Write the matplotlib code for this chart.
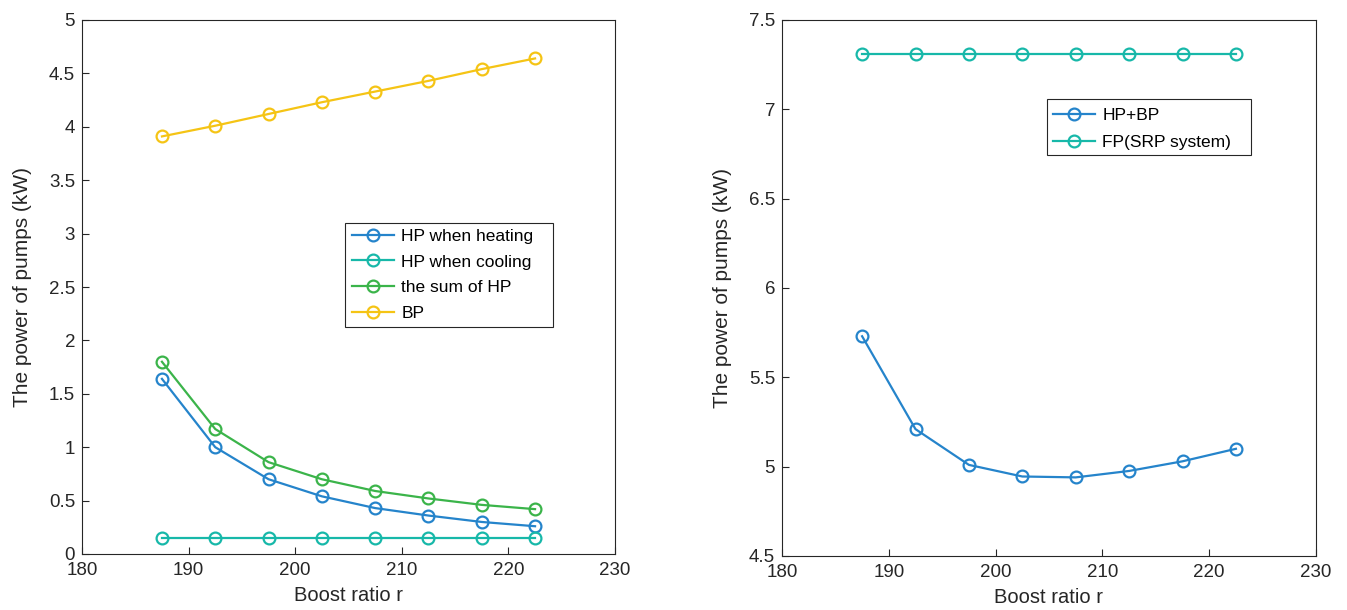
import matplotlib
matplotlib.use("Agg")
import matplotlib.pyplot as plt
from matplotlib.patches import Rectangle

plt.rcParams['font.family'] = ['Liberation Sans', 'DejaVu Sans']

boost_ratio = [187.5, 192.5, 197.5, 202.5, 207.5, 212.5, 217.5, 222.5]
hp_heating = [1.64, 1.00, 0.70, 0.54, 0.43, 0.36, 0.30, 0.26]
hp_cooling = [0.15, 0.15, 0.15, 0.15, 0.15, 0.15, 0.15, 0.15]
hp_sum = [1.80, 1.17, 0.86, 0.70, 0.59, 0.52, 0.46, 0.42]
bp = [3.91, 4.01, 4.12, 4.23, 4.33, 4.43, 4.54, 4.64]
hp_bp = [5.73, 5.21, 5.01, 4.945, 4.94, 4.976, 5.03, 5.10]
fp_srp = [7.31, 7.31, 7.31, 7.31, 7.31, 7.31, 7.31, 7.31]

c_blue = '#2584CB'
c_teal = '#17B8A9'
c_green = '#3BB44A'
c_yellow = '#F5C415'

W, H = 1347, 610
fig = plt.figure(figsize=(W / 100, H / 100), dpi=100)
ax1 = fig.add_axes([82 / W, 1 - 554 / H, 533 / W, 534 / H])
ax2 = fig.add_axes([782 / W, 1 - 556 / H, 534 / W, 536 / H])

style = dict(marker='o', markerfacecolor='none', markersize=8.5, linewidth=1.6, markeredgewidth=1.6)

ax1.plot(boost_ratio, hp_heating, color=c_blue, label='HP when heating', **style)
ax1.plot(boost_ratio, hp_cooling, color=c_teal, label='HP when cooling', **style)
ax1.plot(boost_ratio, hp_sum, color=c_green, label='the sum of HP', **style)
ax1.plot(boost_ratio, bp, color=c_yellow, label='BP', **style)
ax1.set_xlim(180, 230)
ax1.set_ylim(0, 5)
ax1.set_yticks([0, 0.5, 1, 1.5, 2, 2.5, 3, 3.5, 4, 4.5, 5])
ax1.set_yticklabels(['0', '0.5', '1', '1.5', '2', '2.5', '3', '3.5', '4', '4.5', '5'])

ax2.plot(boost_ratio, hp_bp, color=c_blue, label='HP+BP', **style)
ax2.plot(boost_ratio, fp_srp, color=c_teal, label='FP(SRP system)', **style)
ax2.set_xlim(180, 230)
ax2.set_ylim(4.5, 7.5)
ax2.set_yticks([4.5, 5, 5.5, 6, 6.5, 7, 7.5])
ax2.set_yticklabels(['4.5', '5', '5.5', '6', '6.5', '7', '7.5'])

for ax in (ax1, ax2):
    ax.set_xticks([180, 190, 200, 210, 220, 230])
    ax.tick_params(direction='in', labelsize=13.5, length=5, width=0.8, colors='#262626')
    ax.tick_params(axis='x', pad=6)
    ax.tick_params(axis='y', pad=5)
    ax.set_xlabel('Boost ratio r', fontsize=14.5, color='#262626', labelpad=5)
    ax.set_ylabel('The power of pumps (kW)', fontsize=15, color='#262626', labelpad=12)
    for s in ax.spines.values():
        s.set_linewidth(0.8)
        s.set_color('#262626')

leg_kw = dict(frameon=False, fontsize=12.5, handlelength=2.4, borderpad=0,
              handletextpad=0.45, borderaxespad=0)
ax1.legend(loc='upper left', bbox_to_anchor=(0.5066, 0.609), labelspacing=0.6, **leg_kw)
ax2.legend(loc='upper left', bbox_to_anchor=(0.5075, 0.8366), labelspacing=0.7, **leg_kw)

# legend frames (MATLAB-style box with extra right padding)
ax1.add_patch(Rectangle((0.4934, 0.4257), 0.8837 - 0.4934, 0.6204 - 0.4257,
                        transform=ax1.transAxes, facecolor='white', edgecolor='#262626',
                        linewidth=0.8, zorder=4.5))
ax2.add_patch(Rectangle((0.4963, 0.748), 0.8783 - 0.4963, 0.852 - 0.748,
                        transform=ax2.transAxes, facecolor='white', edgecolor='#262626',
                        linewidth=0.8, zorder=4.5))

fig.savefig('out.png', dpi=100, facecolor='white')
